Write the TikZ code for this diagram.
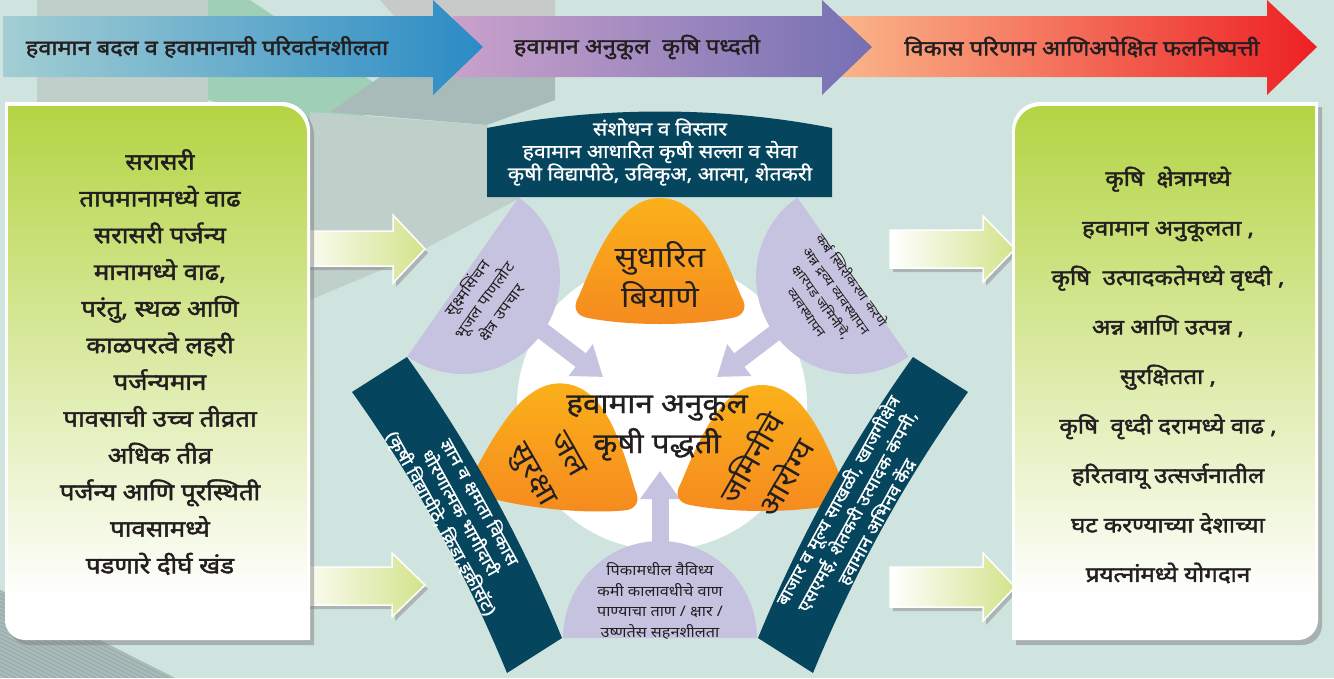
\documentclass[tikz,border=0pt]{standalone}
\usepackage{fontspec}
\newfontfamily\deva[Script=Devanagari, FakeStretch=1.12]{Noto Sans}
\newfontfamily\devam[Script=Devanagari, FakeStretch=1.12, FakeBold=1]{Noto Sans}
\newfontfamily\devab[Script=Devanagari, FakeStretch=1.12, FakeBold=2]{Noto Sans}
\usetikzlibrary{arrows.meta,shadows}

\definecolor{bgc}{HTML}{D0E4DF}
\definecolor{ink}{HTML}{231F20}
\definecolor{bandc}{HTML}{05455D}
\definecolor{lilac}{HTML}{C6C3E1}
\definecolor{boxg}{HTML}{B4D444}
\definecolor{arrg}{HTML}{D3E38B}
\definecolor{oranged}{HTML}{F58A1F}
\definecolor{orangel}{HTML}{FBB11A}
\definecolor{aonel}{HTML}{A3CED3}
\definecolor{aoner}{HTML}{2A8BC5}
\definecolor{atwol}{HTML}{C9A1CB}
\definecolor{atwor}{HTML}{7570B3}
\definecolor{athreel}{HTML}{FAB589}
\definecolor{athreer}{HTML}{ED2024}
\definecolor{facetg}{HTML}{BFD0CB}
\definecolor{facetd}{HTML}{A8BBB8}
\definecolor{facetgr}{HTML}{9FD0B5}
\definecolor{facetl}{HTML}{C8CACA}
\definecolor{stripec}{HTML}{8EA3A3}

\newcommand{\petalpath}{(-72,8) .. controls (-84,6) and (-88,-3) .. (-81,-14)
  .. controls (-62,-60) and (-40,-112) .. (0,-112)
  .. controls (40,-112) and (62,-60) .. (81,-14)
  .. controls (88,-3) and (84,6) .. (72,8)
  .. controls (30,16) and (-30,16) .. (-72,8) -- cycle}

\tikzset{
  hdr/.style={font=\devab\fontsize{21}{24}\selectfont, text=ink},
  boxtxt/.style={font=\devab\fontsize{23}{36.7}\selectfont, text=ink, align=center},
  outtxt/.style={font=\devab\fontsize{21.5}{49.5}\selectfont, text=ink, align=center},
  darktxt/.style={font=\devam\fontsize{19}{22.5}\selectfont, text=white, align=center},
  bandtxt/.style={font=\devam\fontsize{17}{22}\selectfont, text=white, align=center},
  petaltxt/.style={font=\deva\fontsize{29}{40}\selectfont, text=ink, align=center},
  disctxt/.style={font=\deva\fontsize{14.5}{20.5}\selectfont, text=ink, align=center},
  lgarrow/.style={left color=white, right color=arrg, draw=white, line width=1.5pt,
    drop shadow={shadow xshift=3pt, shadow yshift=-4pt, opacity=.45}},
  liarrow/.style={lilac, line width=17pt, -{Triangle[width=38pt,length=28pt]}},
  petalc/.style={top color=orangel, bottom color=oranged},
  boxshadow/.style={drop shadow={shadow xshift=4pt, shadow yshift=-5pt, opacity=.5}}
}

\begin{document}
\begin{tikzpicture}[x=1pt,y=-1pt]
\useasboundingbox (0,0) rectangle (1334,678);
\fill[bgc] (0,0) rectangle (1334,678);

% background facets
\fill[facetg] (37,0) -- (208,0) -- (208,300) -- (37,300) -- cycle;
\fill[facetgr] (208,0) -- (250,0) -- (400,100) -- (330,130) -- (208,100) -- cycle;
\fill[facetl] (380,0) -- (555,0) -- (555,20) -- (500,20) -- (433,60) -- cycle;
\fill[facetd] (380,77) -- (555,30) -- (555,100) -- (487,125) -- (330,112) -- cycle;
\fill[facetg] (310,112) -- (487,125) -- (520,198) -- (400,262) -- (310,300) -- cycle;
\begin{scope}
  \clip (0,590) -- (175,678) -- (0,678) -- cycle;
  \fill[facetd] (0,590) rectangle (175,678);
  \foreach \i in {-200,-192,...,200}
    \draw[stripec, line width=.6pt] (\i,590) -- (\i+180,680);
\end{scope}

% header arrows
\shade[left color=athreel, right color=athreer] (840,16) -- (1267,16) -- (1267,0) -- (1317,47)
  -- (1267,95) -- (1267,77) -- (840,77) -- cycle;
\shade[left color=atwol, right color=atwor] (453,16) -- (822,16) -- (822,0) -- (872,47)
  -- (822,95) -- (822,77) -- (453,77) -- cycle;
\shade[left color=aonel, right color=aoner] (3,16) -- (433,16) -- (433,0) -- (483,47)
  -- (433,95) -- (433,77) -- (3,77) -- cycle;
\node[hdr] (h1) at (207,47) {हवामान बदल व हवामानाची परिवर्तनशीलता};
\node[hdr] (h2) at (637,47) {हवामान अनुकूल\ \ कृषि पध्दती};
\node[hdr] (h3) at (1082,47) {विकास परिणाम आणिअपेक्षित फलनिष्पत्ती};

% light arrows
\shade[lgarrow] (290,231) -- (393,231) -- (393,215) -- (425,249) -- (393,283) -- (393,266) -- (290,266) -- cycle;
\shade[lgarrow] (290,567) -- (392,567) -- (392,553) -- (425,585) -- (392,617) -- (392,605) -- (290,605) -- cycle;
\shade[lgarrow] (890,230) -- (983,230) -- (983,216) -- (1015,249) -- (983,282) -- (983,268) -- (890,268) -- cycle;
\shade[lgarrow] (890,567) -- (983,567) -- (983,553) -- (1015,587) -- (983,621) -- (983,607) -- (890,607) -- cycle;

% side boxes
\fill[white, boxshadow] (5,102) -- (282,102) arc[start angle=270,end angle=360,radius=28]
  -- (310,640) -- (25,640) arc[start angle=90,end angle=180,radius=20] -- cycle;
\shade[top color=boxg, bottom color=white] (8,106) -- (280,106) arc[start angle=270,end angle=360,radius=27]
  -- (307,600) -- (8,600) -- cycle;
\node[boxtxt] (cause) at (160,362) {सरासरी\\ तापमानामध्ये वाढ\\ सरासरी पर्जन्य\\ मानामध्ये वाढ,\\
  परंतु, स्थळ आणि\\ काळपरत्वे लहरी\\ पर्जन्यमान\\ पावसाची उच्च तीव्रता\\ अधिक तीव्र\\
  पर्जन्य आणि पूरस्थिती\\ पावसामध्ये\\ पडणारे दीर्घ खंड};

\fill[white, boxshadow] (1040,102) -- (1318,102) -- (1318,620) arc[start angle=0,end angle=90,radius=20]
  -- (1012,640) -- (1012,130) arc[start angle=180,end angle=270,radius=28] -- cycle;
\shade[top color=boxg, bottom color=white] (1041,106) -- (1315,106) -- (1315,600) -- (1015,600)
  -- (1015,132) arc[start angle=180,end angle=270,radius=26] -- cycle;
\node[outtxt] (result) at (1168,375) {कृषि\ \ क्षेत्रामध्ये\\ हवामान अनुकूलता ,\\ कृषि\ \ उत्पादकतेमध्ये वृध्दी ,\\
  अन्न आणि उत्पन्न ,\\ सुरक्षितता ,\\ कृषि\ \ वृध्दी दरामध्ये वाढ ,\\ हरितवायू उत्सर्जनातील\\
  घट करण्याच्या देशाच्या\\ प्रयत्नांमध्ये योगदान};

% centre
\fill[white] (662,405) circle[radius=145];

\fill[lilac, shift={(463,277)}] (125:97) arc[start angle=125,end angle=-55,radius=97] -- cycle;
\fill[lilac, shift={(853,277)}] (55:97) arc[start angle=55,end angle=235,radius=97] -- cycle;
\fill[lilac, shift={(660,638)}] (180:97) arc[start angle=180,end angle=360,radius=97] -- cycle;

\node[disctxt, font=\deva\fontsize{15}{21}\selectfont, rotate=54] (water) at (484,300)
  {सूक्ष्मसिंचन\\ भूजल पाणलोट\\ क्षेत्र उपचार};
\node[disctxt, font=\deva\fontsize{13}{18.5}\selectfont, rotate=-54] (soil) at (830,296)
  {कर्ब स्थिरीकरण करणे\\ अन्न द्रव्य व्यवस्थापन\\ क्षारपड जमिनीचे,\\ व्यवस्थापन};
\node[disctxt] (seed) at (660,601) {पिकामधील वैविध्य\\ कमी कालावधीचे वाण\\ पाण्याचा ताण / क्षार /\\ उष्णतेस सहनशीलता};

\coordinate (tlS) at (528,320);
\coordinate (tlE) at (603,377);
\coordinate (trS) at (792,320);
\coordinate (trE) at (717,377);
\coordinate (btS) at (660,550);
\coordinate (btE) at (660,471);
\draw[liarrow] (tlS) -- (tlE);
\draw[liarrow] (trS) -- (trE);
\draw[liarrow] (btS) -- (btE);

\shade[petalc, shift={(660,310)}] \petalpath;
\shade[petalc, shift={(553,495)}, rotate=-6] \petalpath;
\shade[petalc, shift={(762,497)}] \petalpath;
\node[petaltxt] (p1) at (660,275) {सुधारित\\ बियाणे};
\node[petaltxt, rotate=-60] (p2) at (548,466) {जल\\ सुरक्षा};
\node[petaltxt, rotate=60] (p3) at (767,467) {जमिनीचे\\ आरोग्य};

\node[font=\devam\fontsize{28}{40}\selectfont, text=ink, align=center] (core) at (657,428)
  {हवामान अनुकूल\\ कृषी पद्धती};

% dark panels
\fill[bandc] (487,128) .. controls (600,106) and (720,106) .. (832,128) -- (832,197) -- (487,197) -- cycle;
\node[darktxt] (research) at (660,152) {संशोधन व विस्तार\\ हवामान आधारित कृषी सल्ला व सेवा\\
  कृषी विद्यापीठे, उविकृअ, आत्मा, शेतकरी};

\fill[bandc] (352,392) -- (407,357) .. controls (470,445) and (521,538) .. (562,638)
  -- (507,673) .. controls (466,573) and (415,480) .. (352,392) -- cycle;
\fill[bandc] (968,392) -- (913,357) .. controls (850,445) and (799,538) .. (758,638)
  -- (813,673) .. controls (854,573) and (905,480) .. (968,392) -- cycle;
\node[bandtxt, rotate=-61] (skill) at (460,513) {ज्ञान व क्षमता विकास\\ धोरणात्मक भागीदारी\\
  (कृषी विद्यापीठे, क्रिडा,इक्रीसॅट)};
\node[bandtxt, rotate=61] (market) at (857,511) {बाजार व मूल्य साखळी, खाजगीक्षेत्र\\
  एसएमई, शेतकरी उत्पादक कंपनी,\\ हवामान अभिनव केंद्र};
\end{tikzpicture}
\end{document}
